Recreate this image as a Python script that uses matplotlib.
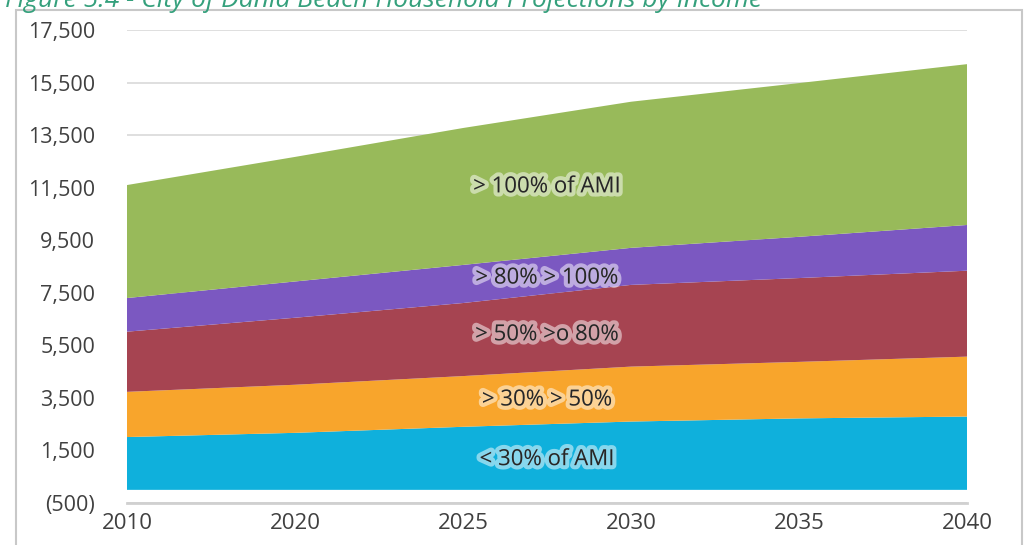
import matplotlib.pyplot as plt
import matplotlib.patheffects as pe
from matplotlib.ticker import FuncFormatter
from matplotlib.patches import Rectangle

plt.rcParams["font.family"] = ["Open Sans", "DejaVu Sans"]

# Data (households by income band)
years = ["2010", "2020", "2025", "2030", "2035", "2040"]
under_30 = [2010, 2170, 2400, 2600, 2720, 2790]
p30_50 = [1720, 1830, 1930, 2090, 2150, 2280]
p50_80 = [2290, 2550, 2780, 3110, 3190, 3270]
p80_100 = [1280, 1380, 1450, 1410, 1570, 1740]
over_100 = [4300, 4740, 5210, 5560, 5850, 6120]

series = [under_30, p30_50, p50_80, p80_100, over_100]
labels = ["< 30% of AMI", "> 30% > 50%", "> 50% >o 80%", "> 80% > 100%", "> 100% of AMI"]
colors = ["#0fb0dc", "#f8a52c", "#a64451", "#7b58c1", "#98ba5a"]
label_y = [1150, 3420, 5900, 8060, 11530]

fig = plt.figure(figsize=(10.25, 5.45), dpi=100)
ax = fig.add_axes([127 / 1025, 1 - 503 / 545, 840 / 1025, 473 / 545])

x = list(range(len(years)))
ax.stackplot(x, *series, colors=colors, linewidth=0)

for lab, yy in zip(labels, label_y):
    ax.text(2.5, yy, lab, ha="center", va="center", fontsize=16, color="#262626",
            path_effects=[pe.withStroke(linewidth=6, foreground="white", alpha=0.5)])

ax.set_xlim(0, 5)
ax.set_ylim(-500, 17500)
ax.set_yticks(range(-500, 17501, 2000))
ax.yaxis.set_major_formatter(FuncFormatter(
    lambda v, p: f"({abs(v):,.0f})" if v < 0 else f"{v:,.0f}"))
ax.set_xticks(x)
ax.set_xticklabels(years)
ax.tick_params(axis="y", length=0, labelsize=15.5, labelcolor="#404040", pad=23)
ax.tick_params(axis="x", length=0, labelsize=16, labelcolor="#404040", pad=7)

ax.grid(axis="y", color="#d9d9d9", linewidth=1.2)
ax.set_axisbelow(True)
for s in ["top", "right", "left"]:
    ax.spines[s].set_visible(False)
ax.spines["bottom"].set_color("#d0d0d0")
ax.spines["bottom"].set_linewidth(2)

# outer chart frame
fig.patches.append(Rectangle((16 / 1025, -0.05), 1006 / 1025, 1 - 10 / 545 + 0.05,
                             transform=fig.transFigure, fill=False,
                             edgecolor="#c8c8c8", linewidth=1.5))

# title, cut off at the top of the image like the source
fig.text(0.005, 1 - 7 / 545, "Figure 5.4 - City of Dania Beach Household Projections by Income",
         fontsize=19, style="italic", color="#35a07c", va="baseline", ha="left")

fig.savefig("out.png", dpi=100)
